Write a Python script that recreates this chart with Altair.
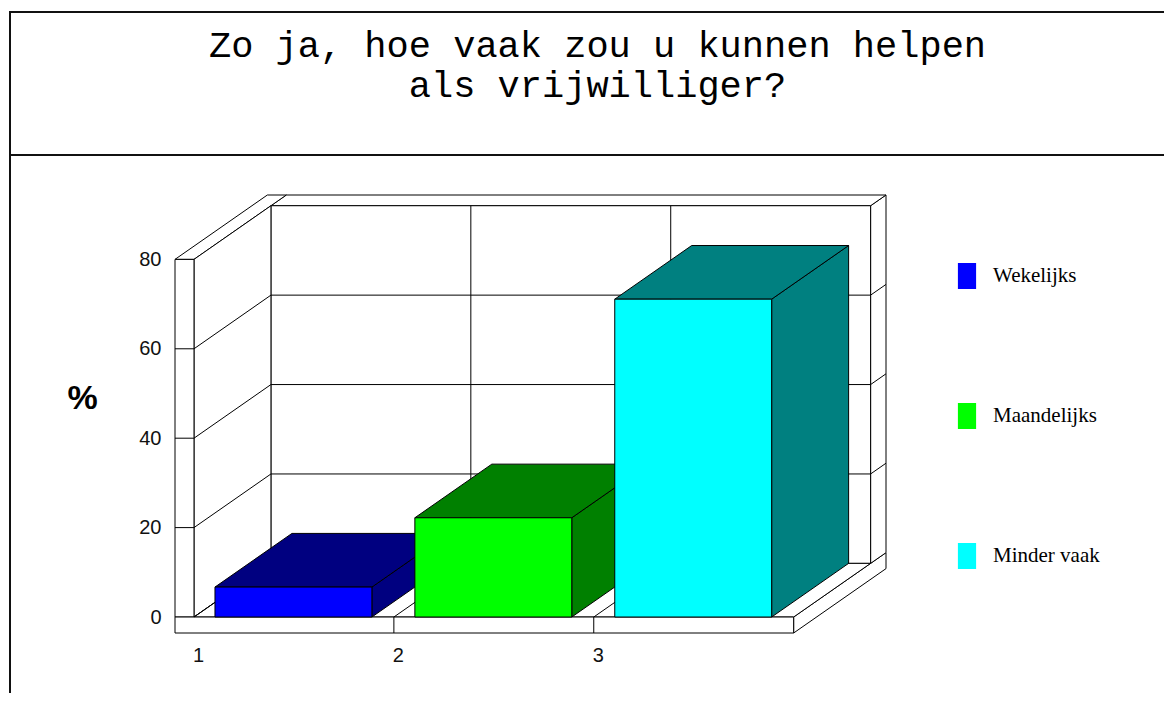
import altair as alt
import pandas as pd

# ---------------- data ----------------
CATEGORIES = ["1", "2", "3"]
SERIES = ["Wekelijks", "Maandelijks", "Minder vaak"]
VALUES = [6.7, 22.2, 71.1]
FRONT_COLORS = ["#0000ff", "#00ff00", "#00ffff"]
SHADE_COLORS = ["#000080", "#008000", "#008080"]
Y_TICKS = [0, 20, 40, 60, 80]
TITLE_LINES = ["Zo ja, hoe vaak zou u kunnen helpen", "als vrijwilliger?"]
Y_TITLE = "%"

# ---------------- 3-D projection / style constants ----------------
DX, DY = 0.385, 12.0      # depth vector in (category units, value units)
BACK = 1.2                # outer depth of back wall (factor of depth)
WALL = 0.095              # left wall thickness (category units)
FLOOR = 3.575             # floor thickness (value units)
B0, B1 = 0.105, 0.89      # bar start / end inside a category slot

N = len(CATEGORIES)
YMAX = max(Y_TICKS)
XDOM = [-WALL, N + BACK * DX]
YDOM = [-FLOOR, YMAX + BACK * DY]
W, H = 711, 438

xs = alt.Scale(domain=XDOM, nice=False, zero=False)
ys = alt.Scale(domain=YDOM, nice=False, zero=False)
label_expr = "[" + ",".join("'%s'" % c for c in CATEGORIES) + "][datum.value]"
x_axis = alt.Axis(values=list(range(N)), labelExpr=label_expr, domain=False, ticks=False,
                  grid=False, labelPadding=12, labelOffset=4, labelFlush=False,
                  labelFont="Liberation Sans", labelFontSize=20, labelColor="#111", title=None)
y_axis = alt.Axis(values=Y_TICKS, domain=False, ticks=False, grid=False, labelPadding=14,
                  labelFont="Liberation Sans", labelFontSize=20, labelColor="#111",
                  title=Y_TITLE, titleAngle=0, titleX=-93, titleY=203, titleAlign="center",
                  titleBaseline="middle", titleFont="Liberation Sans", titleFontSize=34,
                  titleFontWeight="bold", titleColor="#000")


def X(f="x"):
    return alt.X(f + ":Q", scale=xs, axis=x_axis, stack=None)


def Y(f="y"):
    return alt.Y(f + ":Q", scale=ys, axis=y_axis, stack=None)


# ---------------- frame (walls / floor) ----------------
vert_polys = []   # vertical-edged parallelograms: x, y, y2
horiz_polys = []  # horizontal-edged parallelograms: y, x, x2


def vpoly(pid, x0, lo0, hi0, x1, lo1, hi1):
    vert_polys.append(dict(id=pid, x=x0, y=lo0, y2=hi0))
    vert_polys.append(dict(id=pid, x=x1, y=lo1, y2=hi1))


def hpoly(pid, y0, l0, r0, y1, l1, r1):
    horiz_polys.append(dict(id=pid, y=y0, x=l0, x2=r0))
    horiz_polys.append(dict(id=pid, y=y1, x=l1, x2=r1))


# floor right face, back wall right face
vpoly("a_floor_right", N, -FLOOR, 0, N + BACK * DX, -FLOOR + BACK * DY, BACK * DY)
vpoly("b_back_right", N + DX, DY, YMAX + DY, N + BACK * DX, BACK * DY, YMAX + BACK * DY)
vp1 = pd.DataFrame(vert_polys)
vert_polys.clear()
# back wall top, left wall top
hpoly("c_back_top", YMAX + DY, DX, N + DX, YMAX + BACK * DY, BACK * DX, N + BACK * DX)
hpoly("d_left_top", YMAX, -WALL, 0, YMAX + BACK * DY, -WALL + BACK * DX, BACK * DX)
hp1 = pd.DataFrame(horiz_polys)
horiz_polys.clear()

back_face = pd.DataFrame([dict(x=DX, x2=N + DX, y=DY, y2=YMAX + DY)])
vpoly("e_left_inner", 0, 0, YMAX, DX, DY, YMAX + DY)
vp2 = pd.DataFrame(vert_polys)
hpoly("f_floor_top", 0, 0, N, DY, DX, N + DX)
hp2 = pd.DataFrame(horiz_polys)
front_faces = pd.DataFrame([
    dict(x=-WALL, x2=0, y=0, y2=YMAX),
    dict(x=-WALL, x2=N, y=-FLOOR, y2=0),
])

rules = []
for t in Y_TICKS[1:-1]:
    rules.append(dict(x=DX, x2=N + DX, y=t + DY, y2=t + DY))
    rules.append(dict(x=-WALL, x2=0, y=t, y2=t))
    rules.append(dict(x=N + DX, x2=N + BACK * DX, y=t + DY, y2=t + BACK * DY))
for t in Y_TICKS[:-1]:
    rules.append(dict(x=0, x2=DX, y=t, y2=t + DY))
for i in range(1, N):
    rules.append(dict(x=i + DX, x2=i + DX, y=DY, y2=YMAX + DY))
    rules.append(dict(x=i, x2=i + DX, y=0, y2=DY))
    rules.append(dict(x=i, x2=i, y=-FLOOR, y2=0))
rules = pd.DataFrame(rules)

# ---------------- bars ----------------
fronts, sides, tops = [], [], []
for i, (s, v, sc) in enumerate(zip(SERIES, VALUES, SHADE_COLORS)):
    x0, x1 = i + B0, i + B1
    fronts.append(dict(series=s, x=x0, x2=x1, y=0, y2=v))
    sides.append(dict(id=s, shade=sc, x=x1, y=0, y2=v))
    sides.append(dict(id=s, shade=sc, x=x1 + DX, y=DY, y2=v + DY))
    tops.append(dict(id=s, shade=sc, y=v, x=x0, x2=x1))
    tops.append(dict(id=s, shade=sc, y=v + DY, x=x0 + DX, x2=x1 + DX))
fronts, sides, tops = pd.DataFrame(fronts), pd.DataFrame(sides), pd.DataFrame(tops)

LINE = dict(stroke="black", strokeWidth=1)


def vlayer(df, **kw):
    enc = dict(x=X(), y=Y(), y2=alt.Y2("y2:Q"), detail="id:N")
    enc.update(kw)
    return alt.Chart(df).mark_area(orient="vertical", fill="white", **LINE).encode(**enc)


def hlayer(df, **kw):
    enc = dict(y=Y(), x=X(), x2=alt.X2("x2:Q"), detail="id:N")
    enc.update(kw)
    return alt.Chart(df).mark_area(orient="horizontal", fill="white", **LINE).encode(**enc)


def rect_layer(df):
    return alt.Chart(df).mark_rect(fill="white", **LINE).encode(
        x=X(), x2=alt.X2("x2:Q"), y=Y(), y2=alt.Y2("y2:Q"))


layers = [
    vlayer(vp1),
    hlayer(hp1),
    rect_layer(back_face),
    vlayer(vp2),
    hlayer(hp2),
    rect_layer(front_faces),
    alt.Chart(rules).mark_rule(color="black", strokeWidth=1).encode(
        x=X(), x2=alt.X2("x2:Q"), y=Y(), y2=alt.Y2("y2:Q")),
]

for s in SERIES:
    layers.append(vlayer(sides[sides.id == s], fill=alt.Fill("shade:N", scale=None)))
    layers.append(hlayer(tops[tops.id == s], fill=alt.Fill("shade:N", scale=None)))
    layers.append(
        alt.Chart(fronts[fronts.series == s]).mark_rect(**LINE).encode(
            x=X(), x2=alt.X2("x2:Q"), y=Y(), y2=alt.Y2("y2:Q"),
            color=alt.Color("series:N",
                            scale=alt.Scale(domain=SERIES, range=FRONT_COLORS),
                            legend=alt.Legend(
                                orient="none", legendX=779, legendY=68, title=None,
                                symbolType="M-0.7,-1H0.7V1H-0.7Z", symbolSize=676,
                                symbolStrokeWidth=0, symbolOpacity=1, rowPadding=114,
                                labelOffset=13, labelFont="Liberation Serif",
                                labelFontSize=21, labelColor="#000", padding=0)))
    )

# page frame (decoration)
one = alt.Data(values=[{}])
frame_color = "#111"
layers += [
    alt.Chart(one).mark_rule(color=frame_color, strokeWidth=2).encode(
        x=alt.value(-165), x2=alt.value(1000), y=alt.value(-183), y2=alt.value(-183)),
    alt.Chart(one).mark_rule(color=frame_color, strokeWidth=2).encode(
        x=alt.value(-165), x2=alt.value(1000), y=alt.value(-40), y2=alt.value(-40)),
    alt.Chart(one).mark_rule(color=frame_color, strokeWidth=2).encode(
        x=alt.value(-165), x2=alt.value(-165), y=alt.value(-184), y2=alt.value(520)),
]

chart = alt.layer(*layers).properties(
    width=W, height=H,
    title=alt.TitleParams(TITLE_LINES, font="Liberation Mono", fontSize=37, fontWeight="normal",
                          color="#000", anchor="middle", frame="group", dx=67, offset=-95,
                          lineHeight=40),
    autosize=alt.AutoSizeParams(type="none"),
    padding={"left": 167, "top": 187, "right": 278, "bottom": 60},
).configure_view(stroke=None, strokeWidth=0).configure(
    background="white", style={"cell": {"stroke": "transparent", "strokeWidth": 0}})

chart.save("out.html", embed_options={"renderer": "svg", "actions": False})
